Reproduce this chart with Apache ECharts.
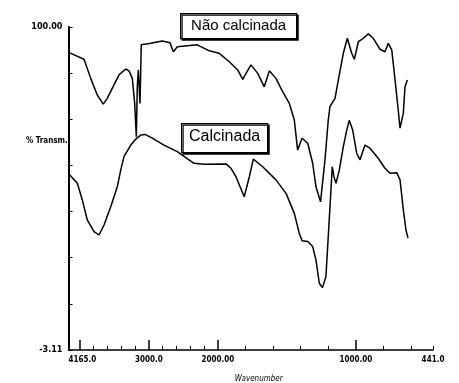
<!DOCTYPE html>
<html>
<head>
<meta charset="utf-8">
<script src="https://cdn.jsdelivr.net/npm/echarts@6/dist/echarts.min.js"></script>
<style>
  html, body { margin: 0; padding: 0; background: #fff; }
  #chart { width: 459px; height: 383px; }
</style>
</head>
<body>
<div id="chart"></div>
<script>
// FTIR spectra: wavenumber (cm-1) vs % transmittance
const wnNaoCalcinada = [4165, 3940, 3843, 3748, 3661, 3603, 3506, 3433, 3336, 3288, 3240, 3206, 3182, 3168, 3153, 3129, 3110, 2974, 2806, 2694, 2646, 2588, 2298, 2124, 1990, 1917, 1856, 1820, 1796, 1760, 1711, 1664, 1627, 1579, 1530, 1482, 1446, 1422, 1390, 1349, 1313, 1289, 1256, 1224, 1200, 1188, 1151, 1127, 1091, 1062, 1030, 1011, 982, 946, 910, 874, 825, 789, 765, 740, 716, 693, 680, 656, 644, 627];
const trNaoCalcinada = [91.9, 89.7, 83.6, 78.3, 75.4, 77.2, 81.5, 84.7, 86.6, 86.0, 83.6, 75.6, 65.0, 80.9, 86.3, 75.6, 94.3, 94.8, 95.5, 95.0, 92.1, 93.7, 94.3, 92.4, 91.6, 88.9, 86.3, 83.3, 85.2, 87.9, 85.2, 80.9, 86.0, 83.6, 79.3, 75.6, 70.3, 60.7, 64.5, 62.9, 56.5, 49.0, 44.2, 57.5, 70.3, 74.6, 77.2, 83.1, 91.6, 96.4, 91.6, 89.7, 95.3, 96.4, 97.8, 96.4, 92.9, 92.1, 94.8, 92.7, 83.1, 73.5, 67.7, 72.5, 80.9, 83.1];

const wnCalcinada = [4165, 4037, 3965, 3893, 3795, 3723, 3650, 3553, 3458, 3408, 3361, 3263, 3191, 3119, 3056, 2950, 2781, 2588, 2346, 2201, 1941, 1905, 1869, 1809, 1772, 1743, 1675, 1579, 1506, 1446, 1410, 1390, 1349, 1313, 1289, 1265, 1242, 1217, 1200, 1182, 1171, 1159, 1144, 1120, 1091, 1066, 1048, 1023, 994, 970, 934, 898, 838, 789, 753, 704, 680, 656, 637, 622];
const trCalcinada = [53.2, 50.1, 44.8, 38.4, 34.7, 33.6, 36.8, 42.6, 49.0, 54.3, 58.6, 62.3, 64.2, 65.5, 65.7, 64.5, 62.3, 60.2, 56.5, 56.2, 56.3, 54.9, 52.2, 45.8, 52.2, 57.8, 55.4, 51.2, 46.9, 40.5, 34.1, 31.8, 31.5, 29.9, 25.6, 18.2, 16.8, 20.3, 33.1, 46.9, 55.4, 52.2, 50.1, 54.3, 61.8, 67.1, 70.2, 67.1, 59.7, 57.6, 62.3, 61.3, 58.1, 54.9, 53.3, 53.5, 51.2, 41.6, 35.2, 32.6];

// Axis ticks and labels
const xLabelValues = [4165, 3000, 2000, 1000, 441];
const xLabelTexts = ['4165.0', '3000.0', '2000.00', '1000.00', '441.0'];
const xMajorTicks = [4000, 3000, 2000, 1000];
const xMinorTicks = [3800, 3600, 3400, 3200, 2800, 2600, 2400, 2200, 1800, 1600, 1400, 1200, 800, 600, 441];
const yMin = -3.11, yMax = 100, yDivisions = 7;
const yLabelValues = [100, -3.11];
const yLabelTexts = ['100.00', '-3.11'];

// Instrument scale: above 2000 cm-1 the axis is compressed by a factor of 2
function toAxis(w) { return w > 2000 ? 2000 + (w - 2000) / 2 : w; }

function lookup(values, texts, v, map) {
  for (let i = 0; i < values.length; i++) {
    if (Math.abs(map(values[i]) - v) < 0.01) return texts[i];
  }
  return '';
}

const yTicks = [];
for (let k = 0; k <= yDivisions; k++) yTicks.push(yMin + k * (yMax - yMin) / yDivisions);

const numFont = "'Liberation Sans Narrow', 'DejaVu Sans Condensed', sans-serif";

const chart = echarts.init(document.getElementById('chart'));
const xCommon = {
  type: 'value', position: 'bottom',
  min: toAxis(441), max: toAxis(4165), inverse: true,
  splitLine: { show: false }
};

chart.setOption({
  animation: false,
  backgroundColor: '#fff',
  grid: { left: 68.5, right: 26, top: 27, bottom: 33, outerBoundsMode: 'none' },
  xAxis: [
    Object.assign({}, xCommon, {
      axisLine: { show: true, onZero: false, lineStyle: { color: '#000', width: 1.5 } },
      axisTick: { show: true, inside: true, length: 10, customValues: xMajorTicks.map(toAxis), lineStyle: { color: '#000', width: 1.5 } },
      axisLabel: {
        customValues: xLabelValues.map(toAxis),
        formatter: v => lookup(xLabelValues, xLabelTexts, v, toAxis),
        color: '#000', fontSize: 8, fontWeight: 'bold', fontFamily: numFont, margin: 6,
        alignMinLabel: 'left', alignMaxLabel: 'center'
      },
      name: 'Wavenumber', nameLocation: 'middle', nameGap: 25,
      nameTextStyle: { color: '#000', fontSize: 8, fontFamily: numFont, fontStyle: 'italic', padding: [0, 0, 0, 16] }
    }),
    Object.assign({}, xCommon, {
      axisLine: { show: false, onZero: false },
      axisTick: { show: true, inside: true, length: 4, customValues: xMinorTicks.map(toAxis), lineStyle: { color: '#000', width: 1 } },
      axisLabel: { show: false }
    })
  ],
  yAxis: {
    type: 'value', min: yMin, max: yMax,
    splitLine: { show: false },
    axisLine: { show: true, onZero: false, lineStyle: { color: '#000', width: 2 } },
    axisTick: { show: true, inside: true, length: 4, customValues: yTicks, lineStyle: { color: '#000', width: 1 } },
    axisLabel: {
      customValues: yLabelValues,
      formatter: v => lookup(yLabelValues, yLabelTexts, v, w => w),
      color: '#000', fontSize: 9, fontWeight: 'bold', fontFamily: numFont, margin: 6
    }
  },
  graphic: [
    {
      type: 'text', left: 26, top: 137,
      style: { text: '% Transm.', fill: '#000', font: "bold 8px 'Liberation Sans Narrow', 'DejaVu Sans Condensed', sans-serif" }
    },
    {
      type: 'group', left: 180, top: 13,
      children: [
        { type: 'rect', shape: { x: 0, y: 0, width: 116, height: 25 },
          style: { fill: '#fff', stroke: '#000', lineWidth: 1.2, shadowColor: '#000', shadowOffsetX: 1.5, shadowOffsetY: 1.5, shadowBlur: 0 } },
        { type: 'text', x: 58, y: 12.5,
          style: { text: 'Não calcinada', fill: '#000', font: "15px 'Liberation Sans', Arial, sans-serif", textAlign: 'center', textVerticalAlign: 'middle' } }
      ]
    },
    {
      type: 'group', left: 181, top: 123,
      children: [
        { type: 'rect', shape: { x: 0, y: 0, width: 86, height: 29 },
          style: { fill: '#fff', stroke: '#000', lineWidth: 1.2, shadowColor: '#000', shadowOffsetX: 1.5, shadowOffsetY: 1.5, shadowBlur: 0 } },
        { type: 'text', x: 43, y: 13,
          style: { text: 'Calcinada', fill: '#000', font: "16px 'Liberation Sans', Arial, sans-serif", textAlign: 'center', textVerticalAlign: 'middle' } }
      ]
    }
  ],
  series: [
    {
      name: 'Não calcinada', type: 'line', xAxisIndex: 0, showSymbol: false, z: 1,
      lineStyle: { color: '#000', width: 1.5 },
      data: wnNaoCalcinada.map((w, i) => [toAxis(w), trNaoCalcinada[i]])
    },
    {
      name: 'Calcinada', type: 'line', xAxisIndex: 0, showSymbol: false, z: 1,
      lineStyle: { color: '#000', width: 1.5 },
      data: wnCalcinada.map((w, i) => [toAxis(w), trCalcinada[i]])
    }
  ]
});
</script>
</body>
</html>
